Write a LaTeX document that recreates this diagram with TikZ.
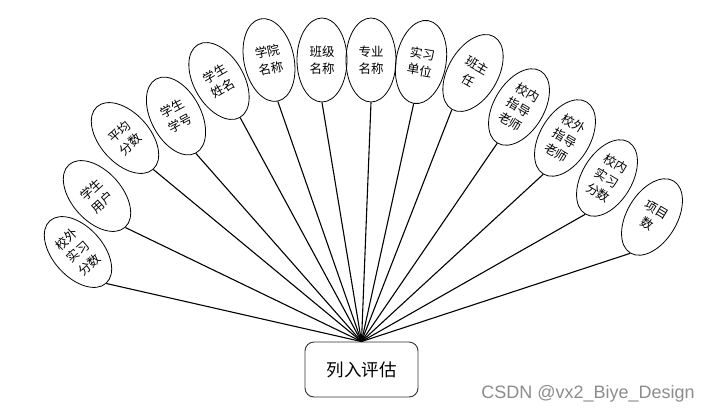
\documentclass[tikz,border=0pt]{standalone}
\usepackage{fontspec}
\setmainfont{Noto Sans CJK SC}
\newfontfamily\wmfont{Liberation Sans}
\usetikzlibrary{shapes.geometric}
\begin{document}
\begin{tikzpicture}[x=1pt,y=-1pt,
  attr/.style={ellipse,draw=black,line width=0.8pt,minimum width=50pt,minimum height=84pt,inner sep=0pt,align=center,font=\fontsize{12.5}{17}\selectfont},
  conn/.style={draw=black,line width=1.1pt},
  ent/.style={draw=black!80,line width=0.9pt,rounded corners=9pt,minimum width=113pt,minimum height=55pt,font=\fontsize{17.5}{20}\selectfont}]
\useasboundingbox (0,0) rectangle (712,413);
\node[ent] (hub) at (361.5,369.5) {列入评估};
\node[attr,rotate=42] (a1) at (78,252) {校外\\实习\\分数};
\node[attr,rotate=42] (a2) at (97,196) {学生\\用户};
\node[attr,rotate=42] (a3) at (125,138) {平均\\分数};
\node[attr,rotate=28] (a4) at (176,116) {学生\\学号};
\node[attr,rotate=30] (a5) at (219,81) {学生\\姓名};
\node[attr,rotate=12] (a6) at (269,60) {学院\\名称};
\node[attr] (a7) at (322,60) {班级\\名称};
\node[attr] (a8) at (371,60) {专业\\名称};
\node[attr,rotate=-10] (a9) at (421,62) {实习\\单位};
\node[attr,rotate=-30] (a10) at (473,73) {班主\\任};
\node[attr,rotate=-31] (a11) at (519,107) {校内\\指导\\老师};
\node[attr,rotate=-31] (a12) at (565,138) {校外\\指导\\老师};
\node[attr,rotate=-31] (a13) at (607,178) {校内\\实习\\分数};
\node[attr,rotate=-31] (a14) at (652,217) {项目\\数};
\foreach \i in {1,...,14} {\draw[conn] (hub.north) -- (a\i.south);}
\node[text=black!45,font=\wmfont\fontsize{18}{20}\selectfont,anchor=center] (wm) at (588,394) {CSDN @vx2\_Biye\_Design};
\end{tikzpicture}
\end{document}
